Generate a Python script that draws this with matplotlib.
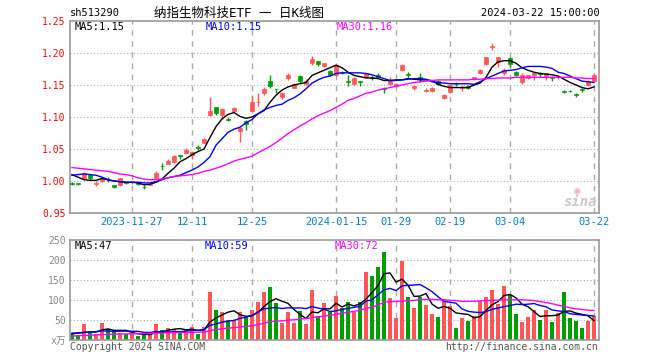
import numpy as np
import matplotlib
matplotlib.use("Agg")
import matplotlib.pyplot as plt

plt.rcParams['font.family'] = ['DejaVu Sans Mono', 'Noto Sans CJK SC']

# daily candles, 2023-11-13 .. 2024-03-22 (88 trading days)
opens = [0.996, 0.996, 1.005, 1.010, 0.996, 1.000, 1.002, 0.993, 0.993, 0.998,
         0.998, 0.997, 0.991, 0.994, 1.005, 1.024, 1.027, 1.030, 1.040, 1.043,
         1.040, 1.053, 1.060, 1.103, 1.115, 1.103, 1.097, 1.110, 1.078, 1.094,
         1.110, 1.123, 1.137, 1.157, 1.144, 1.132, 1.161, 1.146, 1.164, 1.152,
         1.185, 1.187, 1.179, 1.172, 1.165, 1.171, 1.157, 1.151, 1.157, 1.162,
         1.163, 1.166, 1.145, 1.151, 1.148, 1.173, 1.167, 1.146, 1.162, 1.141,
         1.140, 1.157, 1.130, 1.139, 1.152, 1.145, 1.149, 1.159, 1.169, 1.183,
         1.210, 1.186, 1.168, 1.192, 1.170, 1.154, 1.161, 1.165, 1.168, 1.164,
         1.162, 1.162, 1.140, 1.141, 1.136, 1.143, 1.150, 1.157]
highs = [0.998, 0.996, 1.014, 1.011, 1.000, 1.004, 1.006, 0.994, 1.005, 0.998,
         1.000, 0.997, 0.993, 0.997, 1.015, 1.028, 1.034, 1.041, 1.040, 1.052,
         1.047, 1.056, 1.067, 1.132, 1.116, 1.114, 1.100, 1.116, 1.084, 1.095,
         1.135, 1.138, 1.147, 1.165, 1.144, 1.139, 1.169, 1.153, 1.165, 1.159,
         1.195, 1.188, 1.185, 1.173, 1.183, 1.172, 1.166, 1.162, 1.157, 1.169,
         1.165, 1.168, 1.147, 1.162, 1.153, 1.183, 1.170, 1.150, 1.168, 1.145,
         1.147, 1.158, 1.136, 1.152, 1.154, 1.150, 1.150, 1.163, 1.175, 1.194,
         1.215, 1.194, 1.176, 1.194, 1.172, 1.169, 1.166, 1.169, 1.170, 1.169,
         1.164, 1.166, 1.142, 1.142, 1.137, 1.145, 1.158, 1.169]
lows = [0.993, 0.993, 1.004, 1.002, 0.992, 0.999, 0.999, 0.989, 0.992, 0.995,
        0.996, 0.994, 0.987, 0.993, 1.004, 1.017, 1.026, 1.028, 1.035, 1.042,
        1.035, 1.048, 1.059, 1.101, 1.103, 1.097, 1.093, 1.109, 1.061, 1.080,
        1.109, 1.117, 1.134, 1.146, 1.137, 1.128, 1.158, 1.145, 1.153, 1.150,
        1.181, 1.180, 1.178, 1.164, 1.164, 1.167, 1.148, 1.150, 1.148, 1.161,
        1.158, 1.162, 1.138, 1.150, 1.147, 1.172, 1.161, 1.142, 1.155, 1.139,
        1.139, 1.150, 1.128, 1.137, 1.148, 1.140, 1.143, 1.158, 1.167, 1.181,
        1.205, 1.178, 1.165, 1.178, 1.164, 1.151, 1.160, 1.158, 1.163, 1.158,
        1.156, 1.160, 1.137, 1.139, 1.132, 1.139, 1.149, 1.156]
closes = [0.995, 0.995, 1.012, 1.004, 0.997, 1.003, 1.001, 0.990, 1.004, 0.997,
          0.999, 0.996, 0.990, 0.996, 1.013, 1.023, 1.032, 1.039, 1.039, 1.049,
          1.046, 1.052, 1.066, 1.110, 1.106, 1.112, 1.096, 1.114, 1.083, 1.089,
          1.124, 1.124, 1.143, 1.148, 1.143, 1.138, 1.166, 1.152, 1.157, 1.157,
          1.190, 1.183, 1.184, 1.165, 1.181, 1.168, 1.155, 1.161, 1.155, 1.168,
          1.161, 1.163, 1.143, 1.157, 1.152, 1.181, 1.165, 1.149, 1.159, 1.142,
          1.146, 1.151, 1.135, 1.150, 1.151, 1.146, 1.145, 1.162, 1.174, 1.193,
          1.211, 1.193, 1.174, 1.183, 1.166, 1.166, 1.165, 1.168, 1.167, 1.168,
          1.161, 1.164, 1.139, 1.140, 1.135, 1.142, 1.157, 1.165]

ma5 = [1.010, 1.006, 1.002, 1.001, 1.001, 1.004, 1.002, 1.000, 0.999, 0.998,
       0.998, 0.997, 0.994, 0.995, 0.998, 1.003, 1.012, 1.020, 1.030, 1.035,
       1.041, 1.046, 1.050, 1.068, 1.085, 1.097, 1.104, 1.107, 1.101, 1.098,
       1.100, 1.105, 1.110, 1.123, 1.134, 1.142, 1.147, 1.150, 1.152, 1.154,
       1.165, 1.169, 1.173, 1.177, 1.181, 1.177, 1.170, 1.165, 1.163, 1.161,
       1.161, 1.160, 1.157, 1.157, 1.158, 1.158, 1.160, 1.159, 1.158, 1.158,
       1.157, 1.151, 1.148, 1.146, 1.146, 1.146, 1.146, 1.150, 1.153, 1.162,
       1.178, 1.186, 1.188, 1.188, 1.184, 1.177, 1.173, 1.170, 1.168, 1.167,
       1.166, 1.164, 1.159, 1.154, 1.150, 1.146, 1.144, 1.147]
ma10 = [1.009, 1.010, 1.011, 1.010, 1.009, 1.006, 1.002, 1.000, 0.999, 0.998,
        0.998, 0.998, 0.997, 0.997, 0.999, 1.002, 1.005, 1.007, 1.009, 1.013,
        1.017, 1.022, 1.029, 1.038, 1.056, 1.066, 1.076, 1.081, 1.084, 1.091,
        1.096, 1.105, 1.111, 1.115, 1.118, 1.120, 1.126, 1.130, 1.136, 1.144,
        1.153, 1.158, 1.162, 1.164, 1.168, 1.169, 1.169, 1.169, 1.169, 1.168,
        1.166, 1.163, 1.160, 1.157, 1.157, 1.158, 1.159, 1.160, 1.160, 1.159,
        1.155, 1.154, 1.153, 1.152, 1.152, 1.152, 1.152, 1.151, 1.155, 1.160,
        1.164, 1.168, 1.172, 1.173, 1.174, 1.177, 1.179, 1.179, 1.179, 1.178,
        1.176, 1.170, 1.168, 1.164, 1.160, 1.156, 1.155, 1.154]
ma30 = [1.021, 1.020, 1.019, 1.018, 1.017, 1.016, 1.015, 1.013, 1.011, 1.010,
        1.008, 1.005, 1.003, 1.002, 1.002, 1.003, 1.005, 1.007, 1.008, 1.009,
        1.010, 1.012, 1.015, 1.017, 1.020, 1.023, 1.027, 1.031, 1.034, 1.036,
        1.039, 1.044, 1.049, 1.054, 1.060, 1.067, 1.074, 1.080, 1.086, 1.091,
        1.097, 1.102, 1.106, 1.110, 1.115, 1.120, 1.126, 1.129, 1.133, 1.137,
        1.139, 1.142, 1.144, 1.146, 1.148, 1.150, 1.152, 1.154, 1.155, 1.156,
        1.157, 1.158, 1.158, 1.158, 1.158, 1.158, 1.158, 1.159, 1.159, 1.160,
        1.160, 1.161, 1.161, 1.161, 1.162, 1.162, 1.162, 1.162, 1.162, 1.162,
        1.162, 1.162, 1.162, 1.162, 1.161, 1.161, 1.160, 1.160]

# volume (x万)
volume = [16.7, 12.5, 40, 16.7, 14, 41.7, 26.7, 20.8, 18, 14,
          14, 10.8, 14, 14, 40, 25, 29, 27.5, 20.8, 25,
          31.7, 15, 33, 120, 75, 70, 50, 50, 70, 56.7,
          75, 95.8, 120, 132.5, 93, 43, 70, 43, 72.5, 40,
          125, 60, 93, 70.8, 110, 79, 96, 70.8, 96, 170,
          160, 183, 220, 105, 55, 197.5, 108, 80, 108, 87.5,
          65, 56.7, 101.7, 85, 30, 55, 48, 60, 98, 107.5,
          125, 90, 135, 112, 65, 46, 57.5, 75, 50, 75,
          46, 66.7, 120, 56, 48, 30, 48, 60]
vma5 = [15.8, 17, 19, 20, 20, 25, 27.8, 24, 24.2, 24.2,
        18.7, 15.5, 14.2, 13.4, 18.6, 20.8, 24.4, 27.1, 28.5, 25.5,
        26.8, 24, 25.1, 44.9, 54.9, 62.6, 69.6, 73, 63, 59.3,
        60.3, 69.5, 83.5, 96, 103.3, 96.9, 91.7, 76.3, 64.3, 53.7,
        70.1, 68.1, 78.1, 77.8, 91.8, 82.6, 89.8, 85.3, 90.4, 102.4,
        118.6, 136, 165.8, 167.6, 144.6, 152.1, 137.1, 109.1, 109.7, 116.2,
        89.7, 79.4, 83.8, 79.2, 67.7, 65.7, 63.9, 55.6, 58.2, 73.7,
        87.7, 96.1, 111.1, 113.9, 105.4, 89.6, 83.1, 71.1, 58.7, 60.7,
        60.7, 62.5, 71.5, 72.7, 67.3, 64.1, 60.4, 48.4]
vma10 = [17, 18, 19, 20, 21, 22.5, 22.4, 21.5, 22.1, 22.1,
         21.9, 21.7, 19.1, 18.8, 21.4, 19.8, 20, 20.7, 21, 22.1,
         23.8, 24.2, 26.1, 36.7, 40.2, 44.7, 46.8, 49.1, 54, 57.1,
         61.5, 69.6, 78.3, 79.5, 81.3, 78.6, 80.6, 79.9, 80.2, 78.5,
         83.5, 79.9, 77.2, 71.1, 72.8, 76.4, 79, 81.7, 84.1, 97.1,
         100.6, 112.9, 125.6, 129, 123.5, 135.4, 136.6, 137.5, 138.7, 130.4,
         120.9, 108.3, 96.5, 94.5, 92, 77.7, 71.7, 69.7, 68.7, 70.7,
         76.7, 80, 83.4, 86.1, 89.6, 88.7, 89.6, 91.1, 86.3, 83.1,
         75.2, 72.8, 71.3, 65.7, 64, 62.4, 61.5, 60]
vma30 = [10, 10.5, 11.5, 12, 12.5, 13.5, 14, 14.5, 15, 15.3,
         15.5, 15.7, 16, 16.2, 17, 17.5, 18, 18.5, 18.8, 19,
         19.3, 19.5, 20, 23.5, 26, 28, 29.5, 31, 32.5, 34,
         35.7, 38.5, 42, 45.5, 47.5, 47.7, 49.5, 50.5, 52.5, 53.5,
         56.2, 57.5, 60, 61.5, 64.5, 66.5, 69.5, 71.5, 74.5, 79,
         81.8, 87.5, 94, 96, 96.5, 96.8, 98.5, 99, 101, 101.5,
         101.6, 100.5, 100, 99.5, 98.5, 96.5, 96.5, 97, 97.5, 98.5,
         99.4, 99.5, 100.5, 101, 100.5, 100.6, 99.5, 98.5, 96, 93.5,
         90.9, 87, 84, 80.5, 78, 76.3, 74.5, 73.6]

tick_idx = [10, 20, 30, 44, 54, 63, 73, 87]
tick_labels = ["2023-11-27", "12-11", "12-25", "2024-01-15", "01-29", "02-19", "03-04", "03-22"]

UP = "#ff5555"
DOWN = "#009f00"
GRID = "#aaaaaa"
W, H = 660, 360

fig = plt.figure(figsize=(6.6, 3.6), dpi=100)


def box(l, t, r, b):
    return [l / W, 1 - b / H, (r - l) / W, (b - t) / H]


def ftext(px, py, s, **kw):
    fig.text(px / W, 1 - py / H, s, va="center", **kw)


ax = fig.add_axes(box(70, 21, 599, 213))
axv = fig.add_axes(box(70, 240, 599, 340))

x = np.arange(len(closes))
o = np.array(opens)
c = np.array(closes)
up = c >= o
cols = np.where(up, UP, DOWN)

for a in (ax, axv):
    a.set_xlim(-0.33, 87.83)
    for s in a.spines.values():
        s.set_color("#999999")
        s.set_linewidth(1.2)
    for i in tick_idx:
        a.axvline(i, color=GRID, lw=1, ls=(0, (4, 4)), zorder=0)

# price panel
ax.set_ylim(0.95, 1.25)
for lv in [1.00, 1.05, 1.10, 1.15, 1.20]:
    ax.axhline(lv, color=GRID, lw=0.8, ls=(0, (1, 2)), zorder=0)
ax.vlines(x, lows, highs, colors=cols, lw=1, zorder=2)
body = np.maximum(np.abs(c - o), 0.0012)
ax.bar(x, body, bottom=np.minimum(o, c), width=0.78, color=cols, edgecolor=cols, lw=0.5, zorder=3)
ax.plot(x, ma5, color="black", lw=1, zorder=4)
ax.plot(x, ma10, color="#0000ff", lw=1, zorder=4)
ax.plot(x, ma30, color="#ff00ff", lw=1, zorder=4)
ax.set_yticks([0.95, 1.00, 1.05, 1.10, 1.15, 1.20, 1.25])
ax.set_yticklabels(["0.95", "1.00", "1.05", "1.10", "1.15", "1.20", "1.25"])
ax.tick_params(axis="y", length=0, pad=3, labelsize=7, labelcolor="red")
ax.set_xticks(tick_idx)
ax.set_xticklabels(tick_labels)
ax.tick_params(axis="x", length=0, pad=3, labelsize=7.5, labelcolor="#0080d0")

# volume panel
axv.set_ylim(0, 250)
for lv in [50, 100, 150, 200]:
    axv.axhline(lv, color=GRID, lw=0.8, ls=(0, (1, 2)), zorder=0)
axv.bar(x, volume, width=0.8, color=cols, zorder=2)
axv.plot(x, vma5, color="black", lw=1, zorder=4)
axv.plot(x, vma10, color="#0000ff", lw=1, zorder=4)
axv.plot(x, vma30, color="#ff00ff", lw=1, zorder=4)
axv.set_yticks([0, 50, 100, 150, 200, 250])
axv.set_yticklabels(["x万", "50", "100", "150", "200", "250"])
axv.tick_params(axis="y", length=0, pad=3, labelsize=7, labelcolor="#888888")
axv.set_xticks([])

# header / legends
ftext(70, 13, "sh513290", fontsize=7.5, color="black")
ftext(239, 13, "纳指生物科技ETF 一 日K线图", fontsize=9, color="black", ha="center")
ftext(600, 13, "2024-03-22 15:00:00", fontsize=7.5, color="black", ha="right")
ftext(75, 27, "MA5:1.15", fontsize=7.5, color="black")
ftext(206, 27, "MA10:1.15", fontsize=7.5, color="#0000ff")
ftext(337, 27, "MA30:1.16", fontsize=7.5, color="#ff00ff")
ftext(75, 246, "MA5:47", fontsize=7.5, color="black")
ftext(205, 246, "MA10:59", fontsize=7.5, color="#0000ff")
ftext(335, 246, "MA30:72", fontsize=7.5, color="#ff00ff")
ftext(70, 347, "Copyright 2024 SINA.COM", fontsize=7, color="#555555")
ftext(598, 347, "http://finance.sina.com.cn", fontsize=7, color="#555555", ha="right")
ftext(580, 202, "sina", fontsize=10, color="#c8c8c8", ha="center", style="italic", weight="bold")
ftext(577, 190, "◉", fontsize=8, color="#f0b0b0", ha="center")

fig.savefig("out.png", dpi=100)
